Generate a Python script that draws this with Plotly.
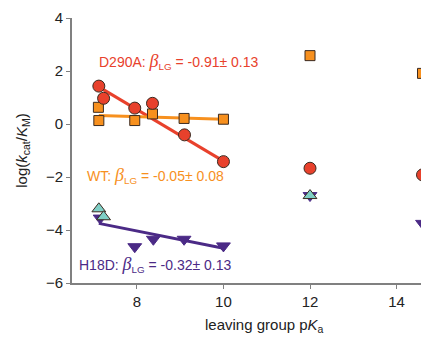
import plotly.graph_objects as go

# D290A (red circles)
d290_x = [7.12, 7.23, 7.95, 8.36, 9.10, 10.0, 12.0, 14.6]
d290_y = [1.43, 0.97, 0.60, 0.78, -0.41, -1.42, -1.67, -1.92]
d290_fit_x = [7.12, 10.0]
d290_fit_y = [1.40, -1.40]

# WT (orange squares)
wt_x = [7.11, 7.12, 7.95, 8.36, 9.09, 10.0, 12.0, 14.6]
wt_y = [0.63, 0.13, 0.13, 0.38, 0.21, 0.18, 2.58, 1.91]
wt_fit_x = [7.12, 10.0]
wt_fit_y = [0.32, 0.18]

# H18D (purple down triangles)
h18_x = [7.15, 7.95, 8.38, 9.09, 10.0, 12.0, 14.6]
h18_y = [-3.55, -4.63, -4.35, -4.35, -4.60, -2.70, -3.75]
h18_fit_x = [7.12, 10.0]
h18_fit_y = [-3.75, -4.69]

# cyan up triangles
cy_x = [7.12, 7.23, 12.0]
cy_y = [-3.20, -3.50, -2.70]

RED = "#e8412c"
ORANGE = "#f7901e"
PURPLE = "#4b2a86"
CYAN = "#7fcfc6"
EDGE = "#3a2a20"

fig = go.Figure()
fig.add_trace(go.Scatter(x=d290_fit_x, y=d290_fit_y, mode="lines",
                         line=dict(color=RED, width=3)))
fig.add_trace(go.Scatter(x=wt_fit_x, y=wt_fit_y, mode="lines",
                         line=dict(color=ORANGE, width=3)))
fig.add_trace(go.Scatter(x=h18_fit_x, y=h18_fit_y, mode="lines",
                         line=dict(color=PURPLE, width=3)))
fig.add_trace(go.Scatter(x=wt_x, y=wt_y, mode="markers",
                         marker=dict(symbol="square", size=10, color=ORANGE,
                                     line=dict(color=EDGE, width=1))))
fig.add_trace(go.Scatter(x=d290_x, y=d290_y, mode="markers",
                         marker=dict(symbol="circle", size=12, color=RED,
                                     line=dict(color=EDGE, width=1))))
fig.add_trace(go.Scatter(x=h18_x, y=h18_y, mode="markers",
                         marker=dict(symbol="triangle-down", size=12, color=PURPLE,
                                     line=dict(color=PURPLE, width=1))))
fig.add_trace(go.Scatter(x=cy_x, y=cy_y, mode="markers",
                         marker=dict(symbol="triangle-up", size=12, color=CYAN,
                                     line=dict(color=EDGE, width=1))))

beta = ('<span style="font-family:Liberation Serif;font-size:18px"><i>β</i></span>'
        '<sub>LG</sub>')
ann = [
    ("D290A: " + beta + " = -0.91± 0.13", 7.08, 2.34, RED),
    ("WT: " + beta + " = -0.05± 0.08", 6.80, -1.96, ORANGE),
    ("H18D: " + beta + " = -0.32± 0.13", 6.61, -5.32, PURPLE),
]
for t, x, y, c in ann:
    fig.add_annotation(x=x, y=y, text=t, showarrow=False, xanchor="left",
                       yanchor="middle", font=dict(color=c, size=14))

# x-axis title (slightly right of centre, as in the reference)
fig.add_annotation(xref="paper", yref="paper", x=0.54, y=-0.16,
                   xanchor="center", yanchor="middle", showarrow=False,
                   text="leaving group p<i>K</i><sub>a</sub>",
                   font=dict(size=15, color="#222"))

axis_common = dict(showgrid=False, zeroline=False, showline=True,
                   linecolor="#808080", linewidth=2, ticks="outside",
                   ticklen=4, tickcolor="#808080", tickwidth=1,
                   tickfont=dict(size=15, color="#222"))
fig.update_xaxes(range=[6.5, 14.75], tickvals=[8, 10, 12, 14], **axis_common)
fig.update_yaxes(range=[-6, 4], tickvals=[-6, -4, -2, 0, 2, 4],
                 title=dict(text="log(<i>k</i><sub>cat</sub>/<i>K</i><sub>M</sub>)",
                            font=dict(size=15, color="#222"), standoff=15),
                 **axis_common)
fig.update_layout(width=421, height=329, showlegend=False,
                  margin=dict(l=64, r=0, t=10, b=54),
                  plot_bgcolor="white", paper_bgcolor="white",
                  font=dict(family="Liberation Sans, Arial, sans-serif"))
fig.write_html("out.html")
